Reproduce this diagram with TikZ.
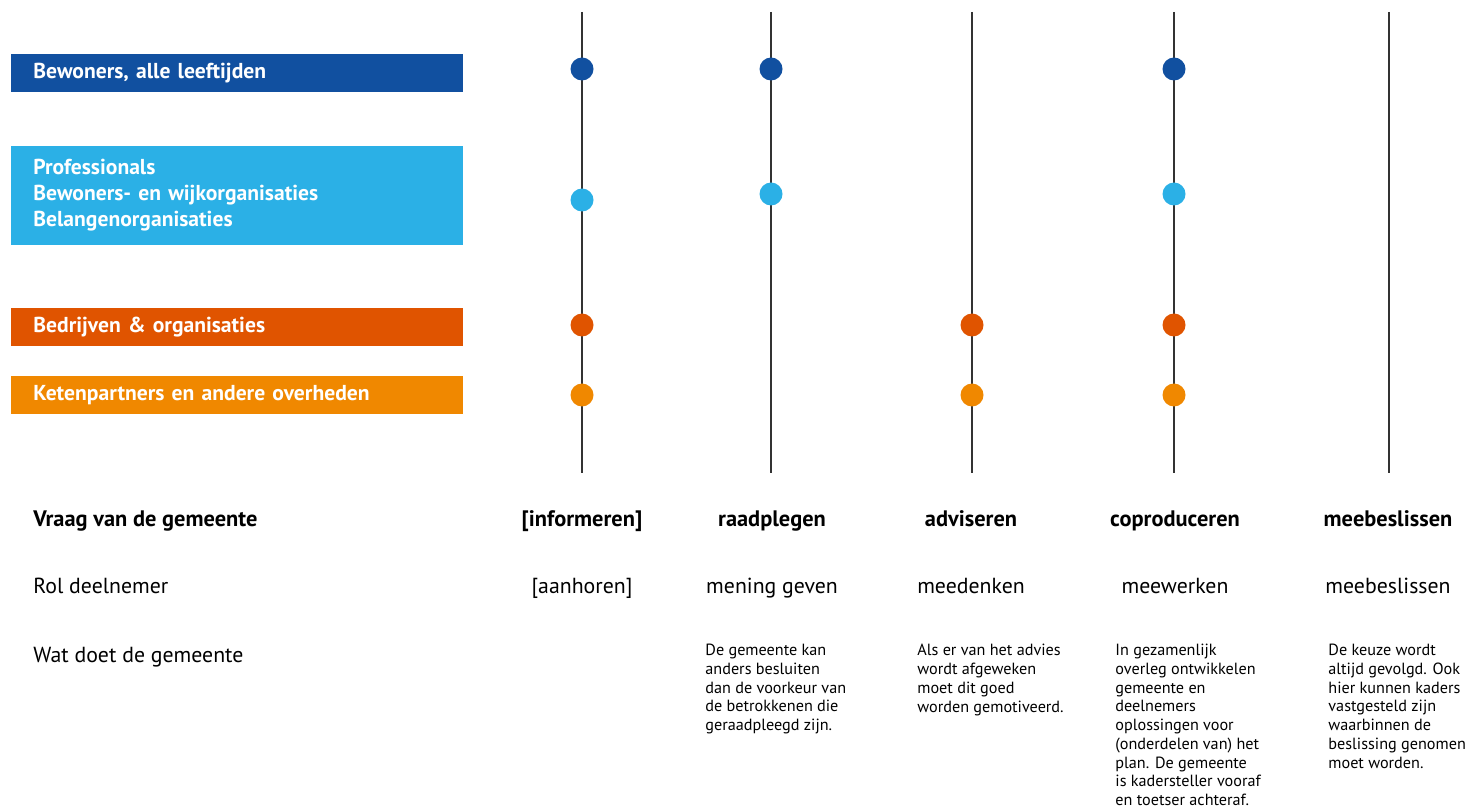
\documentclass[tikz,border=0pt]{standalone}
\usepackage{fontspec}
\setmainfont{PT Sans}
\definecolor{dkblue}{HTML}{1150A0}
\definecolor{ltblue}{HTML}{2BB0E6}
\definecolor{redorange}{HTML}{E05400}
\definecolor{orange}{HTML}{F08800}
\tikzset{
    groupbox/.style={anchor=west, minimum width=226pt, text width=204pt, inner xsep=11pt,
        align=left, text=white, font=\fontsize{10.8}{13}\selectfont\bfseries},
    dot/.style={circle, inner sep=0pt, minimum size=11.5pt},
    rowlabel/.style={anchor=base west, inner sep=0pt, font=\fontsize{10.9}{13}\selectfont},
    colhead/.style={anchor=base, inner sep=0pt, font=\fontsize{11.2}{13}\selectfont\bfseries},
    colrole/.style={anchor=base, inner sep=0pt, font=\fontsize{10.9}{13}\selectfont},
    coltext/.style={anchor=north west, inner sep=0pt, align=left, font=\fontsize{8.1}{9.35}\selectfont}
}
\begin{document}
\begin{tikzpicture}[x=0.5pt, y=-0.5pt]
    \useasboundingbox (0,0) rectangle (1473,812);

    % Vertical lines, one per level
    \foreach \name/\x in {inf/582, raad/771, adv/972, cop/1174, mee/1389} {
        \coordinate (\name-top) at (\x,12);
        \coordinate (\name-bot) at (\x,473);
        \draw[line width=0.9pt, black!80] (\name-top) -- (\name-bot);
    }

    % Groups of participants
    \node[groupbox, fill=dkblue, minimum height=19pt] (bewoners) at (11,73) {Bewoners, alle leeftijden};
    \node[groupbox, fill=ltblue, minimum height=49.5pt] (prof) at (11,195.5)
        {Professionals\\Bewoners- en wijkorganisaties\\Belangenorganisaties};
    \node[groupbox, fill=redorange, minimum height=19pt] (bedrijven) at (11,327) {Bedrijven \& organisaties};
    \node[groupbox, fill=orange, minimum height=19pt] (keten) at (11,395.5) {Ketenpartners en andere overheden};

    % Dots
    \node[dot, fill=dkblue] (d-inf-1) at (582,69) {};
    \node[dot, fill=dkblue] (d-raad-1) at (771,69) {};
    \node[dot, fill=dkblue] (d-cop-1) at (1174,69) {};
    \node[dot, fill=ltblue] (d-inf-2) at (582,200) {};
    \node[dot, fill=ltblue] (d-raad-2) at (771,194) {};
    \node[dot, fill=ltblue] (d-cop-2) at (1174,194) {};
    \node[dot, fill=redorange] (d-inf-3) at (582,325) {};
    \node[dot, fill=redorange] (d-adv-3) at (972,325) {};
    \node[dot, fill=redorange] (d-cop-3) at (1174,325) {};
    \node[dot, fill=orange] (d-inf-4) at (582,395) {};
    \node[dot, fill=orange] (d-adv-4) at (972,395) {};
    \node[dot, fill=orange] (d-cop-4) at (1174,395) {};

    % Row labels
    \node[rowlabel, font=\fontsize{11.2}{13}\selectfont\bfseries] (vraag) at (33,526) {Vraag van de gemeente};
    \node[rowlabel] (rol) at (33,593) {Rol deelnemer};
    \node[rowlabel] (wat) at (33,662) {Wat doet de gemeente};

    % Question of the municipality
    \node[colhead] (h-inf) at (582,526) {[informeren]};
    \node[colhead] (h-raad) at (772,526) {raadplegen};
    \node[colhead] (h-adv) at (971,526) {adviseren};
    \node[colhead] (h-cop) at (1175,526) {coproduceren};
    \node[colhead] (h-mee) at (1388,526) {meebeslissen};

    % Role of participant
    \node[colrole] (r-inf) at (582,593) {[aanhoren]};
    \node[colrole] (r-raad) at (772,593) {mening geven};
    \node[colrole] (r-adv) at (971,593) {meedenken};
    \node[colrole] (r-cop) at (1175,593) {meewerken};
    \node[colrole] (r-mee) at (1388,593) {meebeslissen};

    % What the municipality does
    \node[coltext] (t-raad) at (705,644) {De gemeente kan\\anders besluiten\\dan de voorkeur van\\de betrokkenen die\\geraadpleegd zijn.};
    \node[coltext] (t-adv) at (917,644) {Als er van het advies\\wordt afgeweken\\moet dit goed\\worden gemotiveerd.};
    \node[coltext] (t-cop) at (1115,644) {In gezamenlijk\\overleg ontwikkelen\\gemeente en\\deelnemers\\oplossingen voor\\(onderdelen van) het\\plan. De gemeente\\is kadersteller vooraf\\en toetser achteraf.};
    \node[coltext] (t-mee) at (1328,644) {De keuze wordt\\altijd gevolgd. Ook\\hier kunnen kaders\\vastgesteld zijn\\waarbinnen de\\beslissing genomen\\moet worden.};
\end{tikzpicture}
\end{document}
